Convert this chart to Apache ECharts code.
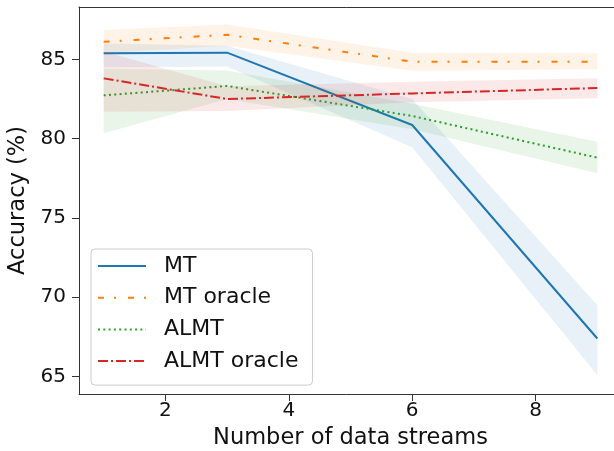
<!DOCTYPE html>
<html>
<head>
<meta charset="utf-8">
<script src="https://cdn.jsdelivr.net/npm/echarts@6/dist/echarts.min.js"></script>
<style>html,body{margin:0;padding:0;background:#fff}#c{width:614px;height:451px}</style>
</head>
<body>
<div id="c"></div>
<script>
var streams = [1, 3, 6, 9];
var mt = [85.38, 85.42, 80.86, 67.4];
var mtLo = [84.5, 84.55, 79.45, 65.1];
var mtHi = [86.0, 85.85, 82.5, 69.5];
var mtOracle = [86.11, 86.55, 84.85, 84.85];
var mtOracleLo = [85.4, 85.85, 84.28, 84.37];
var mtOracleHi = [86.85, 87.2, 85.42, 85.38];
var almt = [82.73, 83.32, 81.43, 78.8];
var almtLo = [80.34, 82.5, 80.6, 77.82];
var almtHi = [84.4, 84.3, 82.2, 79.81];
var almtOracle = [83.8, 82.5, 82.85, 83.19];
var almtOracleLo = [81.7, 81.75, 82.3, 82.54];
var almtOracleHi = [85.5, 83.3, 83.59, 83.8];
var xTicks = [2, 4, 6, 8];
var yTicks = [65, 70, 75, 80, 85];
var names = ['MT', 'MT oracle', 'ALMT', 'ALMT oracle'];

var colors = ['#1f77b4', '#ff7f0e', '#2ca02c', '#d62728'];
var dashes = ['solid', [6, 10, 2, 12], [2, 3.3], [10, 3, 2, 3]];
var means = [mt, mtOracle, almt, almtOracle];
var los = [mtLo, mtOracleLo, almtLo, almtOracleLo];
var his = [mtHi, mtOracleHi, almtHi, almtOracleHi];

function pairs(ys) { return streams.map(function (x, i) { return [x, ys[i]]; }); }

var series = [];
names.forEach(function (n, k) {
  series.push({
    name: n, type: 'line', data: pairs(means[k]), symbol: 'none', showSymbol: false,
    lineStyle: { color: colors[k], width: 2, type: dashes[k], cap: 'butt' },
    itemStyle: { color: colors[k] }, z: 3 + k * 2, animation: false
  });
  (function (lo, hi, col, z) {
    series.push({
      type: 'custom', data: [[streams[0], lo[0]]], z: z, animation: false, silent: true,
      renderItem: function (params, api) {
        var pts = [];
        for (var i = 0; i < streams.length; i++) pts.push(api.coord([streams[i], hi[i]]));
        for (var j = streams.length - 1; j >= 0; j--) pts.push(api.coord([streams[j], lo[j]]));
        return { type: 'polygon', shape: { points: pts }, style: { fill: col, opacity: 0.1 } };
      }
    });
  })(los[k], his[k], colors[k], 4 + k * 2);
});

var chart = echarts.init(document.getElementById('c'));
chart.setOption({
  backgroundColor: '#fff',
  animation: false,
  grid: { left: 79, top: 7, width: 543, height: 387, containLabel: false, outerBoundsMode: 'none', show: false },
  xAxis: [{
    type: 'value', min: 0.6, max: 9.4,
    name: 'Number of data streams', nameLocation: 'middle', nameGap: 33,
    nameTextStyle: { fontFamily: 'DejaVu Sans', fontSize: 22.5, color: '#111' },
    axisLine: { lineStyle: { color: '#333', width: 1 } },
    axisTick: { show: true, length: 7, lineStyle: { color: '#333' }, customValues: xTicks },
    axisLabel: { fontFamily: 'DejaVu Sans', fontSize: 20, color: '#111', margin: 7, customValues: xTicks },
    splitLine: { show: false }
  }, {
    type: 'value', position: 'top', min: 0.6, max: 9.4,
    axisLine: { show: true, lineStyle: { color: '#333', width: 1 } },
    axisTick: { show: false }, axisLabel: { show: false }, splitLine: { show: false }
  }],
  yAxis: {
    type: 'value', min: 63.9, max: 88.3,
    name: 'Accuracy (%)', nameLocation: 'middle', nameGap: 38,
    nameTextStyle: { fontFamily: 'DejaVu Sans', fontSize: 22.5, color: '#111' },
    axisLine: { show: true, lineStyle: { color: '#333', width: 1 } },
    axisTick: { show: true, length: 7, lineStyle: { color: '#333' }, customValues: yTicks },
    axisLabel: { fontFamily: 'DejaVu Sans', fontSize: 20, color: '#111', margin: 13, customValues: yTicks },
    splitLine: { show: false }
  },
  legend: {
    data: names, orient: 'vertical', left: 91, top: 249,
    itemWidth: 48, itemHeight: 14, itemGap: 9.7,
    padding: [6, 14, 13, 6],
    itemStyle: { opacity: 0 },
    backgroundColor: 'rgba(255,255,255,0.8)', borderColor: '#ccc', borderWidth: 1, borderRadius: 4,
    textStyle: { fontFamily: 'DejaVu Sans', fontSize: 22, color: '#111', lineHeight: 22, padding: [0, 0, 0, 13] }
  },
  series: series
});
</script>
</body>
</html>
